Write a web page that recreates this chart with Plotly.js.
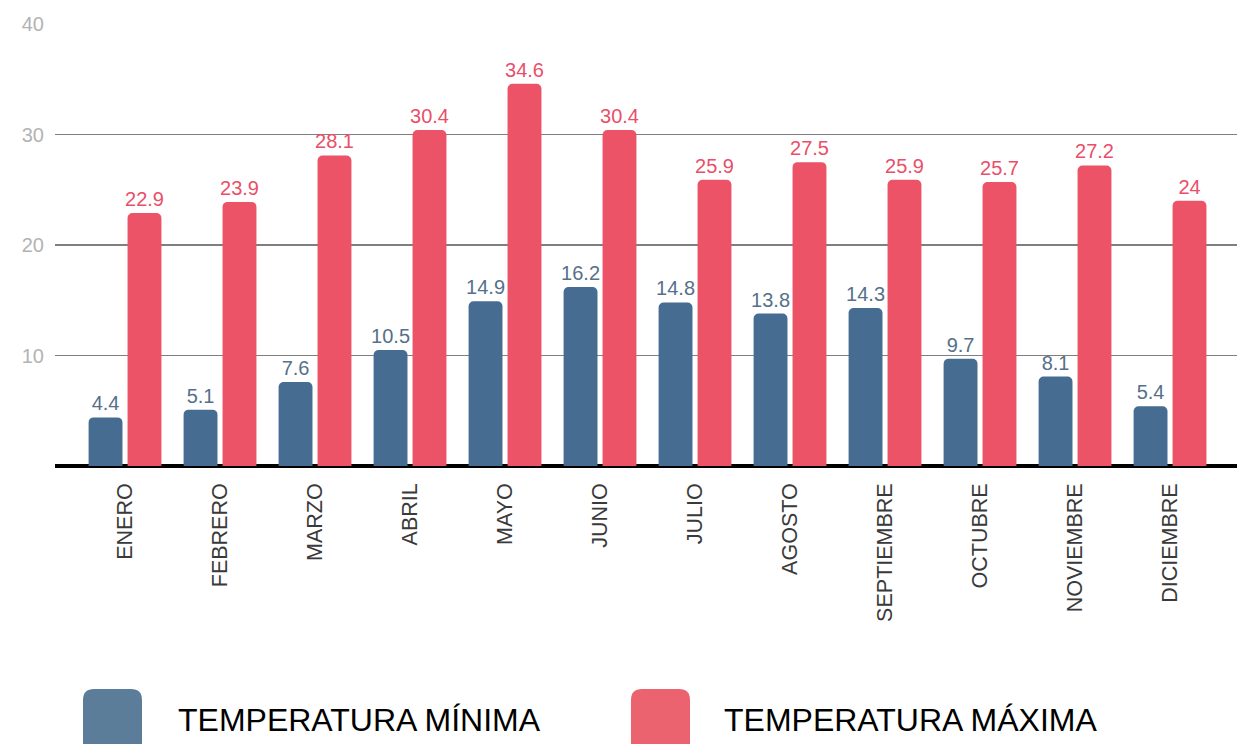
<!DOCTYPE html>
<html>
<head>
<meta charset="utf-8">
<script src="https://cdn.plot.ly/plotly-3.0.1.min.js"></script>
<style>html,body{margin:0;padding:0;background:#fff;}#chart{width:1237px;height:744px;}</style>
</head>
<body>
<div id="chart"></div>
<script>
const months = ["ENERO","FEBRERO","MARZO","ABRIL","MAYO","JUNIO","JULIO","AGOSTO","SEPTIEMBRE","OCTUBRE","NOVIEMBRE","DICIEMBRE"];
const tempMin = [4.4, 5.1, 7.6, 10.5, 14.9, 16.2, 14.8, 13.8, 14.3, 9.7, 8.1, 5.4];
const tempMax = [22.9, 23.9, 28.1, 30.4, 34.6, 30.4, 25.9, 27.5, 25.9, 25.7, 27.2, 24];
const seriesNames = ["TEMPERATURA MÍNIMA", "TEMPERATURA MÁXIMA"];
const yTicks = [10, 20, 30, 40];

const blue = "#466c91", red = "#ec5367";
const blueLeg = "#5b7d9a", redLeg = "#ec6370";

const traces = [
  {type:"bar", x:months, y:tempMin, name:seriesNames[0], marker:{color:blue},
   texttemplate:"%{y}", textposition:"outside", cliponaxis:false, constraintext:"none",
   textfont:{family:"Liberation Sans, Arial, sans-serif", size:20, color:"#55708b"}, showlegend:false, hoverinfo:"x+y"},
  {type:"bar", x:months, y:tempMax, name:seriesNames[1], marker:{color:red},
   texttemplate:"%{y}", textposition:"outside", cliponaxis:false, constraintext:"none",
   textfont:{family:"Liberation Sans, Arial, sans-serif", size:20, color:"#e94f69"}, showlegend:false, hoverinfo:"x+y"}
];

const W = 1182, H = 442, L = 55, T = 24;
const px = v => (v - L) / W;
const py = v => (T + H - v) / H;

function rounded(w, h, r){
  return `M ${r} 0 L ${w-r} 0 Q ${w} 0 ${w} ${-r} L ${w} ${-h+r} Q ${w} ${-h} ${w-r} ${-h} L ${r} ${-h} Q 0 ${-h} 0 ${-h+r} L 0 ${-r} Q 0 0 ${r} 0 Z`;
}

const layout = {
  width:1237, height:744,
  margin:{l:L, r:0, t:T, b:744-T-H},
  paper_bgcolor:"#fff", plot_bgcolor:"#fff",
  barmode:"group", bargap:0.18, bargroupgap:0.13, barcornerradius:5,
  xaxis:{type:"category", range:[-0.737, 11.705], showgrid:false, zeroline:false,
         showline:false, ticks:"", tickangle:-90, ticklabelstandoff:12,
         tickfont:{family:"Liberation Sans, Arial, sans-serif", size:21.5, color:"#3a3a3a"}},
  yaxis:{range:[0,40], tickvals:yTicks, ticktext:yTicks.map(String), showgrid:true,
         gridcolor:"#7f7f7f", gridwidth:1.3, zeroline:true, zerolinecolor:"#000", zerolinewidth:3.5,
         showline:false, ticks:"", ticklabelstandoff:10,
         tickfont:{family:"Liberation Sans, Arial, sans-serif", size:20, color:"#b3b3b3"}},
  shapes:[
    {type:"path", xref:"paper", yref:"paper", xsizemode:"pixel", ysizemode:"pixel",
     xanchor:px(83), yanchor:py(689), path:rounded(59, 80, 11), fillcolor:blueLeg, line:{width:0}},
    {type:"path", xref:"paper", yref:"paper", xsizemode:"pixel", ysizemode:"pixel",
     xanchor:px(631), yanchor:py(689), path:rounded(59, 80, 11), fillcolor:redLeg, line:{width:0}}
  ],
  annotations:[
    {xref:"paper", yref:"paper", x:px(176), y:py(720), xanchor:"left", yanchor:"middle", showarrow:false,
     text:seriesNames[0], font:{family:"Liberation Sans, Arial, sans-serif", size:32, color:"#000"}},
    {xref:"paper", yref:"paper", x:px(722), y:py(720), xanchor:"left", yanchor:"middle", showarrow:false,
     text:seriesNames[1], font:{family:"Liberation Sans, Arial, sans-serif", size:32, color:"#000"}}
  ]
};

Plotly.newPlot("chart", traces, layout, {displayModeBar:false, staticPlot:true});
</script>
</body>
</html>
